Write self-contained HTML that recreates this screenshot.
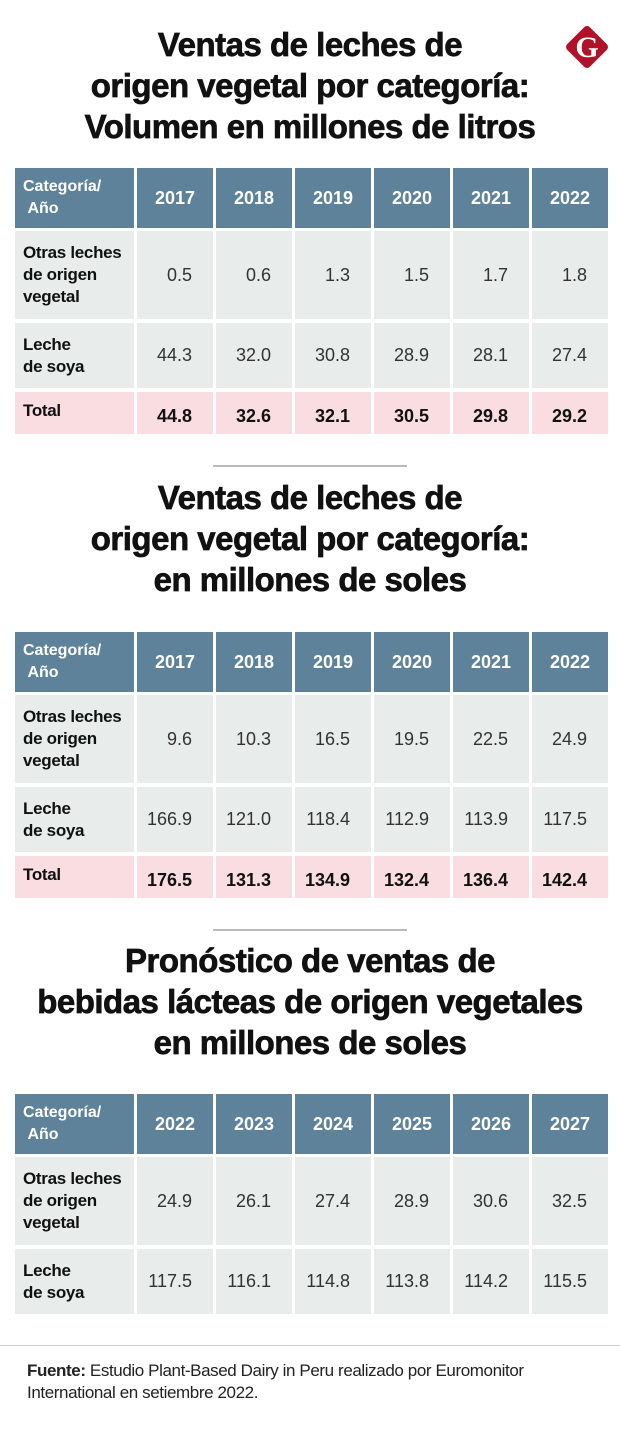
<!DOCTYPE html>
<html><head><meta charset="utf-8">
<style>
*{margin:0;padding:0;box-sizing:border-box}
body{width:620px;height:1433px;background:#fff;position:relative;font-family:"Liberation Sans",sans-serif;overflow:hidden}
.title{position:absolute;left:0;width:620px;text-align:center;font-weight:bold;font-size:33px;line-height:41px;color:#111;letter-spacing:-0.5px;-webkit-text-stroke:0.7px #111}
.sep{position:absolute;height:2px;background:#bbb}
.cell{position:absolute;font-size:18px;color:#333}
.hd{background:#5d8299;color:#fff;font-weight:bold;display:flex;align-items:center;justify-content:center;font-size:18px}
.hd0{justify-content:flex-start;padding-left:8px;font-size:16px;line-height:22px}
.rw{background:#e8eceb}
.tot{background:#f9dde0;font-weight:bold;color:#111}
.lbl{display:flex;align-items:center;padding-left:8px;font-weight:bold;font-size:17px;line-height:22px;color:#111;letter-spacing:-0.3px}
.val{display:flex;align-items:center;justify-content:flex-end;padding-right:21px}
</style></head><body>
<svg style="position:absolute;left:560px;top:20px" width="54" height="54" viewBox="0 0 54 54">
<rect x="11" y="11" width="32" height="32" rx="4" fill="#b0122a" transform="rotate(45 27 27)"/>
<text x="27" y="37" text-anchor="middle" font-family="Liberation Serif,serif" font-weight="bold" font-size="30" fill="#fff">G</text>
</svg>
<div class="title" style="top:24px">Ventas de leches de<br>origen vegetal por categoría:<br>Volumen en millones de litros</div>
<div class="sep" style="left:213px;width:194px;top:465px"></div>
<div class="title" style="top:477px">Ventas de leches de<br>origen vegetal por categoría:<br>en millones de soles</div>
<div class="sep" style="left:213px;width:194px;top:929px"></div>
<div class="title" style="top:940px">Pronóstico de ventas de<br>bebidas lácteas de origen vegetales<br>en millones de soles</div>
<div class="sep" style="left:0;width:620px;top:1345px;height:1px;background:#ccc"></div>
<div style="position:absolute;left:27px;top:1360px;font-size:17px;line-height:22px;color:#222;letter-spacing:-0.4px"><b>Fuente:</b> Estudio Plant-Based Dairy in Peru realizado por Euromonitor<br>International en setiembre 2022.</div>
<script>
const years1=["2017","2018","2019","2020","2021","2022"];
const otras1=["0.5","0.6","1.3","1.5","1.7","1.8"];
const soya1=["44.3","32.0","30.8","28.9","28.1","27.4"];
const total1=["44.8","32.6","32.1","30.5","29.8","29.2"];
const years2=["2017","2018","2019","2020","2021","2022"];
const otras2=["9.6","10.3","16.5","19.5","22.5","24.9"];
const soya2=["166.9","121.0","118.4","112.9","113.9","117.5"];
const total2=["176.5","131.3","134.9","132.4","136.4","142.4"];
const years3=["2022","2023","2024","2025","2026","2027"];
const otras3=["24.9","26.1","27.4","28.9","30.6","32.5"];
const soya3=["117.5","116.1","114.8","113.8","114.2","115.5"];
const colX=[137,216,295,374,453,532];
const colW=76;
function cell(cls,x,y,w,h,html,name){
  const d=document.createElement('div');
  d.className='cell '+cls;
  d.style.cssText='left:'+x+'px;top:'+y+'px;width:'+w+'px;height:'+h+'px';
  d.innerHTML=html;
  
  
  document.body.appendChild(d);
}
function table(id,top,years,otras,soya,total){
  const hy=top, r1=top+63, r2=top+155, r3=top+224;
  cell('hd hd0',15,hy,119,60,'Categoría/<br>&nbsp;Año',id+'-header-category');
  cell('rw lbl',15,r1,119,88,'Otras leches<br>de origen<br>vegetal',id+'-label-otras');
  cell('rw lbl',15,r2,119,65,'Leche<br>de soya',id+'-label-soya');
  if(total) cell('tot lbl',15,r3,119,42,'<span style="margin-top:-4px">Total</span>',id+'-label-total');
  for(let i=0;i<years.length;i++){
    cell('hd',colX[i],hy,colW,60,years[i],id+'-header-year');
    cell('rw val',colX[i],r1,colW,88,otras[i],id+'-value-otras');
    cell('rw val',colX[i],r2,colW,65,soya[i],id+'-value-soya');
    if(total) cell('tot val',colX[i],r3,colW,42,'<span style="margin-top:6px">'+total[i]+'</span>',id+'-value-total');
  }
}
table('table-volume',168,years1,otras1,soya1,total1);
table('table-soles',632,years2,otras2,soya2,total2);
table('table-forecast',1094,years3,otras3,soya3,null);
</script>
</body></html>
